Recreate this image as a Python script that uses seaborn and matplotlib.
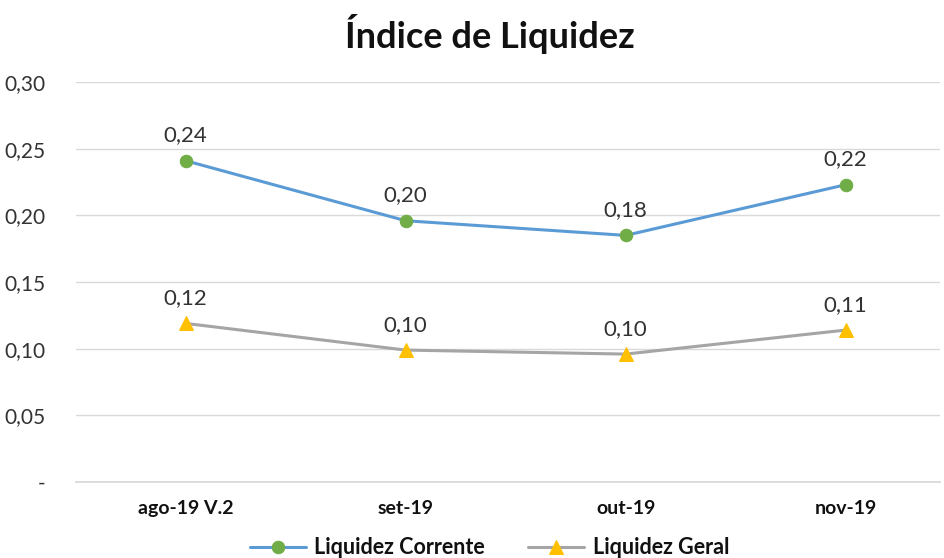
import matplotlib

matplotlib.use("Agg")
import matplotlib.pyplot as plt
import pandas as pd
import seaborn as sns

categories = ["ago-19 V.2", "set-19", "out-19", "nov-19"]
corrente = [0.241, 0.196, 0.185, 0.223]
geral = [0.119, 0.099, 0.096, 0.114]
corrente_labels = ["0,24", "0,20", "0,18", "0,22"]
geral_labels = ["0,12", "0,10", "0,10", "0,11"]
y_ticks = [0.0, 0.05, 0.10, 0.15, 0.20, 0.25, 0.30]
y_tick_labels = ["-", "0,05", "0,10", "0,15", "0,20", "0,25", "0,30"]

sns.set_theme(style="white")
plt.rcParams["font.family"] = ["Lato", "DejaVu Sans"]

frame = pd.DataFrame({"pos": range(len(categories)), "corrente": corrente, "geral": geral})

fig = plt.figure(figsize=(9.45, 5.58), dpi=100)
ax = fig.add_axes([0.080, 0.136, 0.915, 0.717])

sns.lineplot(data=frame, x="pos", y="corrente", ax=ax, color="#5B9BD5", linewidth=2.2,
             marker="o", markersize=9, markerfacecolor="#70AD47", markeredgecolor="#70AD47",
             label="Liquidez Corrente")
sns.lineplot(data=frame, x="pos", y="geral", ax=ax, color="#A5A5A5", linewidth=2.2,
             marker="^", markersize=10, markerfacecolor="#FFC000", markeredgecolor="#FFC000",
             label="Liquidez Geral")

for i in range(len(categories)):
    ax.annotate(corrente_labels[i], (i, corrente[i]), xytext=(0, 11), textcoords="offset points",
                ha="center", va="bottom", fontsize=16, color="#333333")
    ax.annotate(geral_labels[i], (i, geral[i]), xytext=(0, 11), textcoords="offset points",
                ha="center", va="bottom", fontsize=16, color="#333333")

ax.set_xlim(-0.5, 3.43)
ax.set_ylim(0, 0.30)
ax.set_yticks(y_ticks)
ax.set_yticklabels(y_tick_labels, fontsize=15, color="#333333")
ax.set_xticks(range(len(categories)))
ax.set_xticklabels(categories, fontsize=14, fontweight="bold", color="#111111")
ax.tick_params(axis="y", length=0, pad=22)
ax.tick_params(axis="x", length=0, pad=13)
ax.grid(axis="y", color="#D9D9D9", linewidth=1)
ax.set_xlabel("")
ax.set_ylabel("")
for side in ["top", "right", "left"]:
    ax.spines[side].set_visible(False)
ax.spines["bottom"].set_color("#D9D9D9")

ax.get_legend().remove()
handles, labels = ax.get_legend_handles_labels()
leg = fig.legend(handles, labels, loc="center", bbox_to_anchor=(0.518, 0.018), ncol=2,
                 frameon=False, fontsize=15.5, handlelength=2.6, handletextpad=0.4,
                 columnspacing=2.0)
for t in leg.get_texts():
    t.set_fontweight("bold")
    t.set_color("#111111")

fig.suptitle("Índice de Liquidez", x=0.518, y=0.975, fontsize=26, fontweight="bold", color="#111111")

fig.savefig("out.png", dpi=100)
